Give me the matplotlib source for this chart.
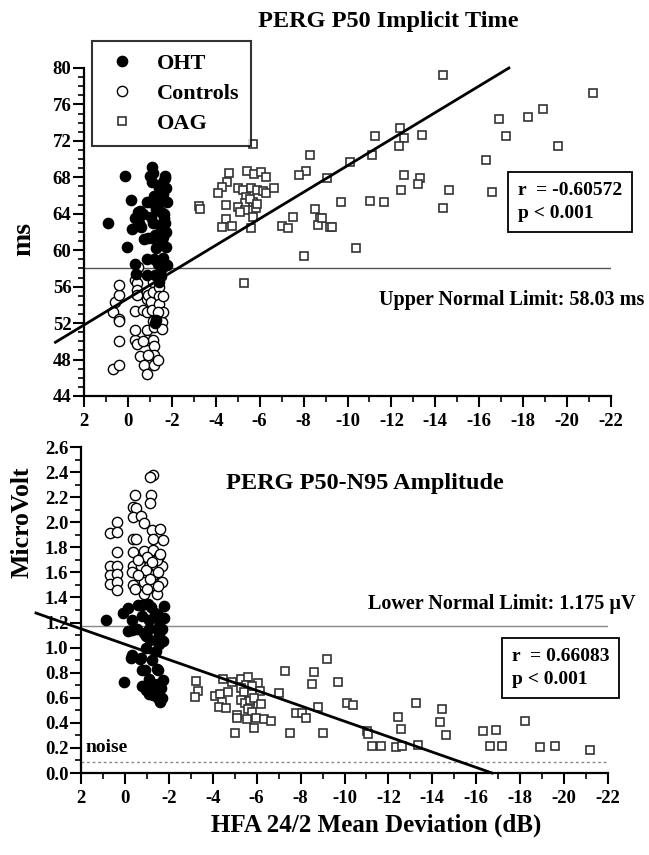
import numpy as np
import matplotlib
matplotlib.use("Agg")
import matplotlib.pyplot as plt
from matplotlib.ticker import MultipleLocator, FormatStrFormatter

plt.rcParams['font.family'] = ['Liberation Serif', 'DejaVu Serif']
plt.rcParams['font.weight'] = 'bold'
plt.rcParams['axes.labelweight'] = 'bold'
plt.rcParams['axes.unicode_minus'] = False

# ---- P50 implicit time (ms) ----
oht_t_x = [0.9, 0.15, 0.05, -0.15, -0.2, -0.3, -0.3, -0.35, -0.45, -0.55, -0.5, -0.75, -0.7, -0.85,
           -0.9, -0.85, -0.85, -1.0, -1.1, -1.15, -1.1, -1.2, -1.05, -1.15, -1.1, -1.25, -1.3, -1.2,
           -1.35, -1.25, -1.3, -1.25, -1.4, -1.45, -1.5, -1.45, -1.55, -1.4, -1.5, -1.6, -1.7, -1.75,
           -1.8, -1.65, -1.7, -1.75, -1.6, -1.75, -1.6, -1.8, -1.55, -1.35, -1.0, -1.6, -1.5, -0.6,
           -1.3, -1.65, -1.7, -1.2]
oht_t_y = [63.0, 68.1, 60.3, 65.5, 62.3, 63.5, 58.5, 57.4, 64.2, 64.3, 63.0, 61.2, 64.0, 65.3,
           61.3, 59.0, 57.3, 68.2, 69.1, 68.5, 67.5, 65.5, 63.6, 63.0, 61.3, 61.7, 60.2, 59.0,
           58.5, 57.3, 52.3, 52.0, 66.8, 65.6, 64.2, 62.8, 61.0, 56.5, 57.2, 67.5, 68.2, 66.8,
           65.3, 64.0, 63.0, 62.0, 61.5, 60.4, 59.2, 58.4, 58.0, 65.1, 65.3, 66.2, 62.3, 62.5,
           64.5, 63.5, 67.9, 66.0]

ctrl_t_x = [0.67, 0.39, 0.67, 0.6, 0.4, 0.4, 0.4, 0.4, 0.4, -0.3, -0.4, -0.3, -0.3, -0.3, -0.4,
            -0.4, -0.4, -0.45, -0.55, -0.7, -0.75, -0.85, -0.85, -0.85, -0.85, -0.9, -0.85, -1.05,
            -1.1, -1.15, -1.15, -1.15, -1.15, -1.2, -1.15, -1.2, -1.2, -1.2, -1.35, -1.4, -1.42,
            -1.4, -1.55, -1.55, -1.6, -1.6, -1.35, -0.7, -0.9]
ctrl_t_y = [46.96, 47.4, 53.25, 54.35, 55.1, 56.2, 52.4, 52.2, 50.0, 50.1, 49.7, 51.2, 53.3, 56.7,
            56.4, 55.6, 55.1, 58.2, 48.4, 53.4, 47.4, 46.4, 51.2, 50.2, 54.7, 55.1, 53.2, 54.3,
            53.4, 57.1, 56.5, 55.4, 52.2, 51.6, 50.2, 49.5, 48.5, 47.4, 48.0, 56.0, 55.0, 54.1,
            52.1, 51.4, 55.0, 53.2, 53.2, 50.0, 48.5]

oag_t_x = [-3.25, -3.3, -4.47, -4.62, -4.5, -4.27, -4.12, -5.44, -5.74, -6.05, -6.3, -5.0, -5.25,
           -5.6, -5.9, -6.15, -6.3, -6.65, -5.4, -5.7, -5.35, -5.55, -5.0, -5.35, -5.85, -5.9,
           -5.1, -5.71, -4.47, -4.72, -4.3, -5.59, -7.53, -7.0, -7.27, -8.52, -8.77, -8.64, -9.2,
           -8.02, -5.29, -5.71, -8.29, -8.1, -7.8, -9.05, -14.36, -21.16, -18.89, -18.2, -16.9,
           -17.2, -19.57, -16.29, -11.25, -12.39, -12.59, -12.34, -13.4, -11.1, -10.11, -12.59,
           -13.3, -13.22, -12.44, -14.62, -16.6, -9.7, -11.02, -11.67, -14.33, -8.82, -9.28, -10.39]
oag_t_y = [64.85, 64.5, 65.0, 68.5, 67.5, 66.9, 66.3, 68.65, 68.4, 68.6, 68.0, 66.8, 66.6,
           66.8, 66.6, 66.5, 66.3, 66.8, 65.8, 65.3, 65.2, 65.6, 64.7, 64.4, 64.6, 65.1,
           64.2, 63.6, 63.4, 62.65, 62.5, 62.4, 63.6, 62.65, 62.4, 64.5, 63.5, 62.8, 62.5,
           59.4, 56.4, 71.7, 70.45, 68.7, 68.3, 67.9, 79.2, 77.3, 75.5, 74.65, 74.4,
           72.5, 71.4, 69.9, 72.5, 73.45, 72.35, 71.4, 72.6, 70.4, 69.65, 68.3,
           67.9, 67.3, 66.6, 66.6, 66.4, 65.3, 65.4, 65.3, 64.6, 63.5, 62.5, 60.2]

fit_t_x = [3.3, -17.35]
fit_t_b = [54.71, -1.4576]          # intercept, slope
limit_t = 58.03

# ---- P50-N95 amplitude (microvolt) ----
ctrl_a_x = [0.68, 0.37, 0.37, 0.37, 0.68, 0.68, 0.68, 0.35, 0.35, 0.35, 0.35, -0.46, -0.35, -0.5,
            -0.38, -0.74, -0.87, -0.38, -0.5, -0.38, -0.38, -0.71, -1.09, -1.4, -1.7, -0.33, -0.85,
            -1.3, -0.38, -0.85, -1.3, -1.68, -1.3, -1.14, -1.2, -1.15, -1.22, -1.3, -1.75, -1.6,
            -0.85, -1.3, -1.55, -1.45, -0.85, -1.45, -1.52, -0.45, -0.95, -1.15, -1.5, -0.6, -1.0,
            -1.6, -0.6, -1.0, -1.25]
ctrl_a_y = [1.916, 2.0, 1.92, 1.765, 1.653, 1.579, 1.505, 1.653, 1.59, 1.52, 1.46, 2.217, 2.12, 2.11,
            2.04, 2.05, 1.99, 1.866, 1.87, 1.76, 1.653, 1.653, 1.653, 1.653, 1.653, 1.6, 1.57,
            1.58, 1.5, 1.52, 1.5, 1.52, 2.376, 2.358, 2.22, 2.15, 1.94, 1.87, 1.86, 1.95,
            1.77, 1.78, 1.73, 1.70, 1.43, 1.43, 1.49, 1.47, 1.62, 1.55, 1.6, 1.58, 1.72,
            1.75, 1.7, 1.47, 1.68]

oht_a_x = [0.86, 0.04, -0.13, 0.1, -0.3, -0.15, -0.3, -0.26, -0.3, -0.6, -0.7, -0.75, -0.8, -0.9,
           -0.8, -1.05, -0.8, -0.85, -0.95, -1.1, -1.08, -1.15, -0.8, -0.95, -1.1, -1.2, -1.3,
           -1.3, -1.45, -1.5, -1.35, -1.5, -1.55, -1.5, -1.55, -1.45, -1.5, -1.55, -1.8, -1.8,
           -1.4, -1.45, -1.5, -1.6, -1.5, -1.7, -1.75, -1.1, -1.25, -0.95, -1.7, -1.65, -1.2,
           -1.75, -0.55]
oht_a_y = [1.22, 0.728, 1.318, 1.28, 1.22, 1.132, 1.14, 0.92, 0.94, 1.34, 0.91, 0.92, 0.82, 0.82,
           1.34, 1.35, 1.25, 1.12, 1.09, 1.22, 1.15, 1.06, 0.69, 0.66, 0.63, 0.69, 0.71,
           0.62, 0.64, 0.6, 1.28, 1.26, 1.22, 1.16, 1.11, 1.06, 1.05, 1.03, 1.33, 1.24,
           0.97, 0.83, 0.82, 0.57, 0.71, 1.15, 1.05, 0.75, 0.9, 1.0, 0.6, 0.68, 1.32,
           0.74, 1.15]

oag_a_x = [-3.24, -3.34, -3.19, -4.45, -4.86, -5.27, -5.62, -4.1, -4.33, -4.68, -4.4, -4.3, -4.6,
           -6.07, -5.5, -5.8, -5.3, -5.42, -5.77, -6.15, -5.3, -5.45, -5.7, -5.9, -6.2, -5.7,
           -5.6, -5.8, -5.09, -5.12, -5.57, -5.97, -6.33, -6.64, -5.89, -5.01, -7.02, -7.29,
           -8.62, -8.53, -9.22, -8.81, -7.79, -8.05, -8.25, -7.52, -9.04, -9.69, -10.1, -10.4,
           -11.01, -11.08, -11.24, -11.66, -12.34, -12.6, -12.45, -12.57, -13.24, -13.36,
           -14.43, -14.35, -14.62, -16.29, -16.9, -16.62, -17.18, -18.22, -18.9, -19.58, -21.2]
oag_a_y = [0.736, 0.656, 0.608, 0.747, 0.728, 0.747, 0.763, 0.614, 0.63, 0.648, 0.569, 0.529, 0.516,
           0.72, 0.7, 0.69, 0.68, 0.648, 0.63, 0.656, 0.58, 0.56, 0.575, 0.6, 0.55, 0.52,
           0.51, 0.49, 0.463, 0.436, 0.428, 0.436, 0.428, 0.417, 0.356, 0.321, 0.64, 0.816,
           0.808, 0.71, 0.907, 0.529, 0.481, 0.476, 0.441, 0.321, 0.321, 0.728, 0.561, 0.542,
           0.337, 0.311, 0.215, 0.215, 0.205, 0.215, 0.449, 0.348, 0.561, 0.223,
           0.51, 0.409, 0.303, 0.337, 0.343, 0.215, 0.215, 0.417, 0.205, 0.215, 0.183]

fit_a_x = [4.05, -16.72]
fit_a_b = [1.027, 0.06143]
limit_a = 1.175
noise_a = 0.088

W, H = 649, 855
fig = plt.figure(figsize=(W / 100, H / 100), dpi=100)
ax1 = fig.add_axes([84 / W, 1 - 396 / H, 527 / W, 328 / H])
ax2 = fig.add_axes([81 / W, 1 - 773 / H, 527 / W, 326 / H])


def style(ax, ymaj, ymin):
    for s in ['top', 'right']:
        ax.spines[s].set_visible(False)
    for s in ['left', 'bottom']:
        ax.spines[s].set_linewidth(1.6)
    ax.set_xlim(2, -22)
    ax.xaxis.set_major_locator(MultipleLocator(2))
    ax.xaxis.set_minor_locator(MultipleLocator(1))
    ax.yaxis.set_major_locator(MultipleLocator(ymaj))
    ax.yaxis.set_minor_locator(MultipleLocator(ymin))
    ax.tick_params(which='major', direction='out', length=8, width=1.5, labelsize=13.5)
    ax.tick_params(which='minor', direction='out', length=4, width=1.2)
    ax.tick_params(axis='y', pad=1)
    ax.tick_params(axis='x', pad=4)


def groups(ax, ox, oy, cx, cy, gx, gy):
    ax.plot(cx, cy, 'o', ms=7.4, mfc='white', mec='black', mew=1.0, ls='none', label='Controls', zorder=3)
    ax.plot(ox, oy, 'o', ms=7.4, mfc='black', mec='black', ls='none', label='OHT', zorder=3)
    ax.plot(gx, gy, 's', ms=6, mfc='white', mec='#333333', mew=1.2, ls='none', label='OAG', zorder=3)


# top panel
style(ax1, 4, 1)
ax1.set_ylim(44, 80)
groups(ax1, oht_t_x, oht_t_y, ctrl_t_x, ctrl_t_y, oag_t_x, oag_t_y)
ax1.axhline(limit_t, color='#555555', lw=1.0, zorder=2)
fx = np.array(fit_t_x)
ax1.plot(fx, fit_t_b[0] + fit_t_b[1] * fx, color='black', lw=2, clip_on=False, zorder=4)
ax1.set_ylabel('ms', fontsize=20, fontweight='bold')
ax1.yaxis.set_label_coords(-0.09, 0.48)

h, l = ax1.get_legend_handles_labels()
order = [1, 0, 2]
leg = ax1.legend([h[i] for i in order], [l[i] for i in order], loc='upper left',
                 bbox_to_anchor=(92 / W, 1 - 41 / H), bbox_transform=fig.transFigure,
                 fontsize=16, frameon=True, fancybox=False, borderpad=0.55,
                 handlelength=1.6, handletextpad=0.75, labelspacing=0.42, borderaxespad=0)
leg.get_frame().set_edgecolor('black')
leg.get_frame().set_linewidth(1.5)
leg.set_zorder(5)

fig.text(388 / W, 1 - 22 / H, 'PERG P50 Implicit Time', fontsize=17.5, ha='center', va='center')
fig.text(512 / W, 1 - 300 / H, 'Upper Normal Limit: 58.03 ms', fontsize=14.5, ha='center', va='center')
fig.text(518 / W, 1 - 202 / H, 'r  = -0.60572\np < 0.001', fontsize=14, ha='left', va='center',
         linespacing=1.45,
         bbox=dict(boxstyle='square,pad=0.5', fc='white', ec='black', lw=1.3))

# bottom panel
style(ax2, 0.2, 0.1)
ax2.set_ylim(0, 2.6)
ax2.yaxis.set_major_formatter(FormatStrFormatter('%.1f'))
groups(ax2, oht_a_x, oht_a_y, ctrl_a_x, ctrl_a_y, oag_a_x, oag_a_y)
ax2.axhline(limit_a, color='#888888', lw=1.0, zorder=2)
ax2.axhline(noise_a, color='#888888', lw=1.0, ls=(0, (2, 2)), zorder=2)
fx = np.array(fit_a_x)
ax2.plot(fx, fit_a_b[0] + fit_a_b[1] * fx, color='black', lw=2, clip_on=False, zorder=4)
ax2.set_ylabel('MicroVolt', fontsize=18.5, fontweight='bold')
ax2.yaxis.set_label_coords(-0.09, 0.77)
ax2.set_xlabel('HFA 24/2 Mean Deviation (dB)', fontsize=18, fontweight='bold')
ax2.xaxis.set_label_coords(0.56, -0.125)

fig.text(365 / W, 1 - 483 / H, 'PERG P50-N95 Amplitude', fontsize=17.5, ha='center', va='center')
fig.text(502 / W, 1 - 604 / H, 'Lower Normal Limit: 1.175 \u00b5V', fontsize=14.5, ha='center', va='center')
fig.text(86 / W, 1 - 747 / H, 'noise', fontsize=14, ha='left', va='center')
fig.text(512 / W, 1 - 668 / H, 'r  = 0.66083\np < 0.001', fontsize=14, ha='left', va='center',
         linespacing=1.45,
         bbox=dict(boxstyle='square,pad=0.5', fc='white', ec='black', lw=1.3))

fig.savefig('out.png', dpi=100)
